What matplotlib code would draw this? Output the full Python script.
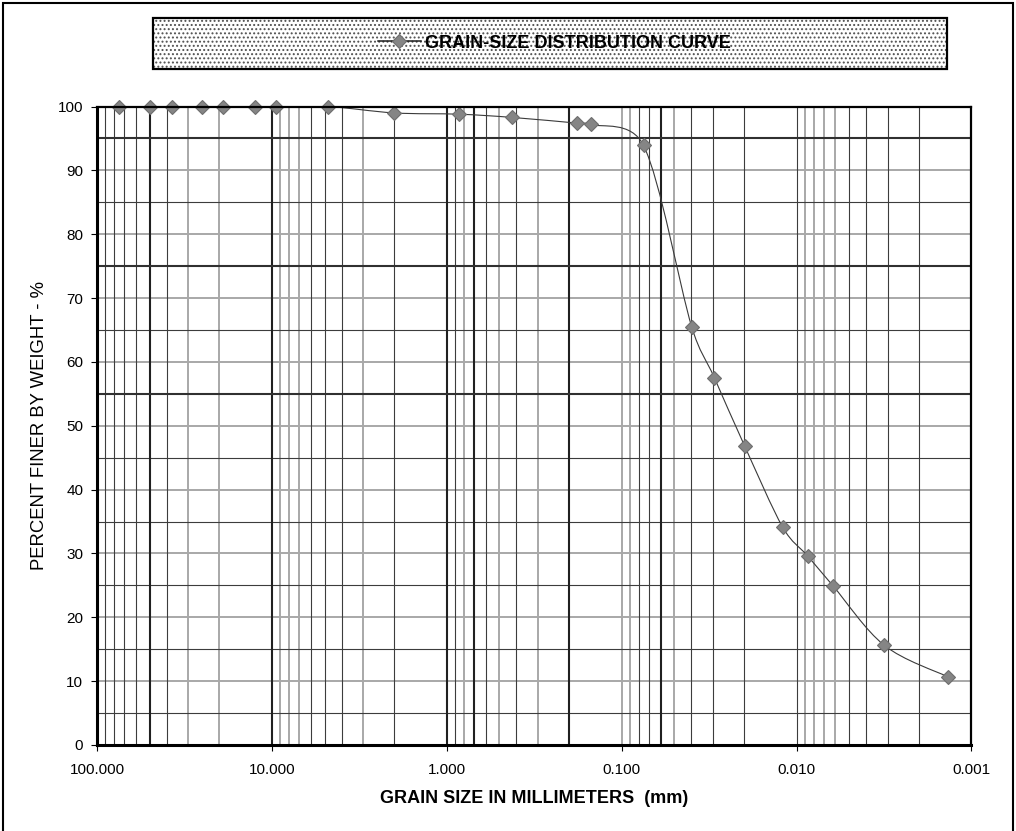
import matplotlib

matplotlib.use("Agg")
import matplotlib.pyplot as plt
import numpy as np
from matplotlib.lines import Line2D
from matplotlib.patches import PathPatch, Rectangle
from matplotlib.path import Path

plt.rcParams.update({
    "font.family": ["Liberation Sans", "DejaVu Sans"],
    "hatch.linewidth": 0.9,
})

# sieve / hydrometer results
GRAIN_SIZE_MM = [75.0, 50.0, 37.5, 25.0, 19.0, 12.5, 9.5, 4.75, 2.0, 0.85, 0.425,
                 0.18, 0.15, 0.075, 0.0398, 0.0295, 0.0198, 0.0120, 0.00864,
                 0.00618, 0.00315, 0.00137]
PERCENT_FINER = [100.0, 100.0, 100.0, 100.0, 100.0, 100.0, 100.0, 100.0, 99.0, 98.8,
                 98.3, 97.4, 97.2, 93.9, 65.5, 57.5, 46.8, 34.1, 29.6, 24.9, 15.6, 10.7]

Y_TICKS = list(range(0, 101, 10))
X_TICKS = [100.0, 10.0, 1.0, 0.1, 0.01, 0.001]
X_TICK_LABELS = ["100.000", "10.000", "1.000", "0.100", "0.010", "0.001"]

# grid lines of the chart sheet, by style
GRID_X_GRAY = [30, 20, 9, 8, 7, 3, 0.8, 0.5, 0.3, 0.1, 0.09, 0.05,
               0.009, 0.008, 0.007, 0.006]
GRID_X_THIN = [90, 80, 70, 60, 40, 6, 5, 4, 2, 0.9, 0.6, 0.4, 0.08, 0.07,
               0.04, 0.03, 0.02, 0.01, 0.005, 0.004, 0.003, 0.002]
GRID_X_BOLD = [50, 10, 1, 0.7, 0.2, 0.06]
GRID_Y_GRAY = [10, 20, 30, 40, 50, 60, 70, 80, 90]
GRID_Y_THIN = [5, 15, 25, 35, 45, 65, 85]
GRID_Y_BOLD = [55, 75, 95]

LEGEND_LABEL = "GRAIN-SIZE DISTRIBUTION CURVE"
MARKER_COLOR = "#858585"
LINE_COLOR = "#3a3a3a"


def smooth_path(ax, xs, ys):
    """Spreadsheet-style smoothed line: bezier segments built in screen space,
    control arms (P2-P0)/6 clamped to half the segment length."""
    pts = ax.transData.transform(np.column_stack([xs, ys]))
    n = len(pts)
    verts = [pts[0]]
    codes = [Path.MOVETO]
    for i in range(n - 1):
        p0 = pts[max(i - 1, 0)]
        p1 = pts[i]
        p2 = pts[i + 1]
        p3 = pts[min(i + 2, n - 1)]
        d12 = np.linalg.norm(p2 - p1)
        d02 = np.linalg.norm(p2 - p0)
        d13 = np.linalg.norm(p3 - p1)
        f1 = 1 / 6 if d02 / 6 < d12 / 2 else d12 / (2 * d02)
        f2 = 1 / 6 if d13 / 6 < d12 / 2 else d12 / (2 * d13)
        verts += [p1 + f1 * (p2 - p0), p2 - f2 * (p3 - p1), p2]
        codes += [Path.CURVE4] * 3
    data_verts = ax.transData.inverted().transform(np.array(verts))
    return Path(data_verts, codes)


fig = plt.figure(figsize=(10.16, 8.31), dpi=100)
ax = fig.add_axes([0.0955, 0.1035, 0.8607, 0.7683])

ax.set_xscale("log")
ax.set_xlim(100.0, 0.001)
ax.set_ylim(0, 100)

for xv in GRID_X_GRAY:
    ax.axvline(xv, color="#a8a8a8", lw=1.4, zorder=1)
for xv in GRID_X_THIN:
    ax.axvline(xv, color="#3c3c3c", lw=0.8, zorder=1.2)
for xv in GRID_X_BOLD:
    ax.axvline(xv, color="#202020", lw=1.5, zorder=1.3)
for yv in GRID_Y_GRAY:
    ax.axhline(yv, color="#a8a8a8", lw=1.4, zorder=1)
for yv in GRID_Y_THIN:
    ax.axhline(yv, color="#3c3c3c", lw=0.8, zorder=1.2)
for yv in GRID_Y_BOLD:
    ax.axhline(yv, color="#303030", lw=1.5, zorder=1.3)

ax.add_patch(PathPatch(smooth_path(ax, GRAIN_SIZE_MM, PERCENT_FINER), fill=False,
                       edgecolor=LINE_COLOR, lw=0.8, zorder=3))
ax.plot(GRAIN_SIZE_MM, PERCENT_FINER, ls="none", marker="D", ms=7.5,
        mfc=MARKER_COLOR, mec="#6e6e6e", mew=0.8, zorder=4, clip_on=False)

ax.set_xticks(X_TICKS)
ax.set_xticklabels(X_TICK_LABELS)
ax.xaxis.set_minor_locator(matplotlib.ticker.NullLocator())
ax.set_yticks(Y_TICKS)
ax.tick_params(axis="x", direction="out", length=4, width=0.8, pad=9, labelsize=11)
ax.tick_params(axis="y", direction="out", length=4, width=0.8, pad=6, labelsize=11)

ax.spines["left"].set_linewidth(2.2)
ax.spines["bottom"].set_linewidth(2.2)
ax.spines["top"].set_linewidth(1.6)
ax.spines["right"].set_linewidth(1.6)
for sp in ax.spines.values():
    sp.set_zorder(5)

ax.set_xlabel("GRAIN SIZE IN MILLIMETERS  (mm)", fontsize=13, fontweight="bold",
              labelpad=9)
ax.set_ylabel("PERCENT FINER BY WEIGHT - %", fontsize=13.3, labelpad=7)

# dotted legend panel
box = dict(xy=(153 / 1016, 1 - 69 / 831), width=794 / 1016, height=51 / 831,
           transform=fig.transFigure)
fig.patches.append(Rectangle(**box, facecolor="white", edgecolor="#505050",
                             hatch="....", lw=0))
fig.patches.append(Rectangle(**box, fill=False, edgecolor="black", lw=1.6))
handle = Line2D([], [], color="#202020", lw=1.1, marker="D", ms=7.5,
                mfc=MARKER_COLOR, mec="#6e6e6e", mew=0.8)
leg = fig.legend([handle], [LEGEND_LABEL], loc="center",
                 bbox_to_anchor=(554 / 1016, 1 - 43 / 831), frameon=False,
                 handlelength=2.4, handletextpad=0.2,
                 prop={"size": 13, "weight": "bold"})

# outer border of the sheet
fig.patches.append(Rectangle((3 / 1016, -0.01), 1 - 6 / 1016, 1 - 3 / 831 + 0.01,
                             transform=fig.transFigure, fill=False,
                             edgecolor="black", lw=1.5))

fig.savefig("out.png", dpi=100)
